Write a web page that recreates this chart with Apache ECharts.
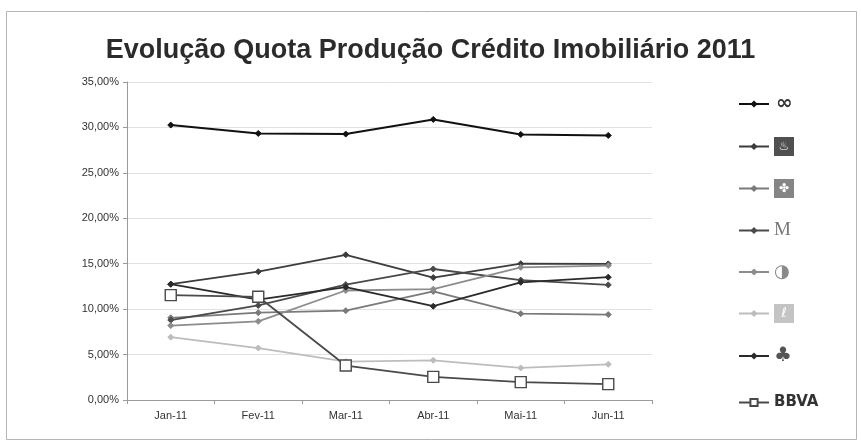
<!DOCTYPE html>
<html>
<head>
<meta charset="utf-8">
<script src="https://cdn.jsdelivr.net/npm/echarts@6/dist/echarts.min.js"></script>
<style>
  html, body { margin: 0; padding: 0; background: #fff; }
  #chart { width: 861px; height: 446px; }
</style>
</head>
<body>
<div id="chart"></div>
<script>
// Monthly share of new mortgage lending, 2011 (percent)
const months = ['Jan-11', 'Fev-11', 'Mar-11', 'Abr-11', 'Mai-11', 'Jun-11'];
const yTicks = { min: 0, max: 35, step: 5 };

const cgd        = [30.26, 29.34, 29.27, 30.88, 29.23, 29.12];
const santander  = [12.75, 14.12, 15.98, 13.47, 15.00, 14.98];
const bes        = [9.05, 9.61, 9.83, 11.95, 9.50, 9.40];
const millennium = [8.80, 10.41, 12.70, 14.42, 13.20, 12.67];
const montepio   = [8.19, 8.66, 12.05, 12.20, 14.60, 14.80];
const banif      = [6.92, 5.72, 4.22, 4.37, 3.53, 3.93];
const barclays   = [12.75, 11.05, 12.42, 10.32, 12.95, 13.52];
const bbva       = [11.54, 11.36, 3.79, 2.55, 1.97, 1.75];

const seriesNames = ['CGD', 'Santander Totta', 'BES', 'Millennium bcp', 'Montepio', 'Banif', 'Barclays', 'BBVA'];
const seriesData  = [cgd, santander, bes, millennium, montepio, banif, barclays, bbva];
const seriesColors = ['#111111', '#3c3c3c', '#7a7a7a', '#4a4a4a', '#8c8c8c', '#bdbdbd', '#2a2a2a', '#4a4a4a'];
const logoKeys = ['cgd', 'san', 'bes', 'mil', 'mon', 'ban', 'bar', 'bbva'];
const logoGlyphs = ['∞', '♨', '✤', 'M', '◑', 'ℓ', '♣', 'BBVA'];

const fmtPct = v => v.toFixed(2).replace('.', ',') + '%';

const series = seriesNames.map((name, i) => {
  const isBBVA = name === 'BBVA';
  return {
    name,
    type: 'line',
    data: seriesData[i],
    symbol: isBBVA ? 'rect' : 'diamond',
    symbolSize: isBBVA ? 11 : 6,
    showAllSymbol: true,
    lineStyle: { color: seriesColors[i], width: i === 0 ? 2 : 1.8 },
    itemStyle: isBBVA
      ? { color: '#ffffff', borderColor: seriesColors[i], borderWidth: 1.4 }
      : { color: seriesColors[i], borderColor: seriesColors[i] },
    emphasis: { disabled: true },
    z: isBBVA ? 3 : 2
  };
});

// bank logos rendered as small styled glyphs next to each legend key
const logoRich = {
  cgd:  { color: '#333', fontSize: 20, fontWeight: 'bold', height: 20, fontFamily: 'DejaVu Sans', padding: [0, 0, 0, 2] },
  san:  { color: '#fff', backgroundColor: '#505050', fontSize: 12, width: 20, height: 19, align: 'center', fontFamily: 'DejaVu Sans' },
  bes:  { color: '#fff', backgroundColor: '#858585', fontSize: 12, width: 20, height: 19, align: 'center', fontFamily: 'DejaVu Sans' },
  mil:  { color: '#777', fontSize: 19, height: 20, fontFamily: 'Liberation Serif' },
  mon:  { color: '#8a8a8a', fontSize: 18, height: 20, fontFamily: 'DejaVu Sans' },
  ban:  { color: '#fff', backgroundColor: '#c4c4c4', fontSize: 13, width: 20, height: 19, align: 'center', fontFamily: 'DejaVu Sans' },
  bar:  { color: '#555', fontSize: 20, height: 20, fontFamily: 'DejaVu Sans' },
  bbva: { color: '#333', fontSize: 15, fontWeight: 'bold', height: 20, fontFamily: 'DejaVu Sans' }
};
const legendBase = {
  orient: 'vertical',
  left: 733,
  itemWidth: 30,
  itemHeight: 9,
  itemGap: 23,
  selectedMode: false,
  formatter: name => {
    const i = seriesNames.indexOf(name);
    return '{' + logoKeys[i] + '|' + logoGlyphs[i] + '}';
  },
  textStyle: { rich: logoRich }
};

const chart = echarts.init(document.getElementById('chart'), null, { renderer: 'canvas' });

chart.setOption({
  backgroundColor: '#ffffff',
  animation: false,
  textStyle: { fontFamily: 'Liberation Sans, Arial, sans-serif' },
  title: {
    text: 'Evolução Quota Produção Crédito Imobiliário 2011',
    left: 'center',
    top: 32,
    textStyle: {
      fontFamily: 'Liberation Sans, Arial, sans-serif',
      fontSize: 27,
      fontWeight: 'bold',
      color: '#2b2b2b'
    }
  },
  graphic: [{
    type: 'rect',
    shape: { x: 6.5, y: 11.5, width: 850, height: 428 },
    style: { fill: 'none', stroke: '#b5b5b5', lineWidth: 1 },
    silent: true
  }],
  legend: [
    Object.assign({}, legendBase, { top: 89, data: seriesNames.slice(0, 7) }),
    Object.assign({}, legendBase, { top: 390, data: seriesNames.slice(7) })
  ],
  grid: { left: 127, right: 209, top: 82, bottom: 46, containLabel: false },
  xAxis: {
    type: 'category',
    data: months,
    boundaryGap: true,
    axisLine: { lineStyle: { color: '#9a9a9a', width: 1 } },
    axisTick: { show: true, alignWithLabel: false, length: 4, lineStyle: { color: '#9a9a9a' } },
    axisLabel: { color: '#333', fontSize: 11, margin: 10 }
  },
  yAxis: {
    type: 'value',
    min: yTicks.min,
    max: yTicks.max,
    interval: yTicks.step,
    axisLine: { show: true, lineStyle: { color: '#9a9a9a', width: 1 } },
    axisTick: { show: true, length: 4, lineStyle: { color: '#9a9a9a' } },
    axisLabel: { color: '#333', fontSize: 11, margin: 8, formatter: fmtPct },
    splitLine: { show: true, lineStyle: { color: '#e2e2e2', width: 1 } }
  },
  series
});
</script>
</body>
</html>
